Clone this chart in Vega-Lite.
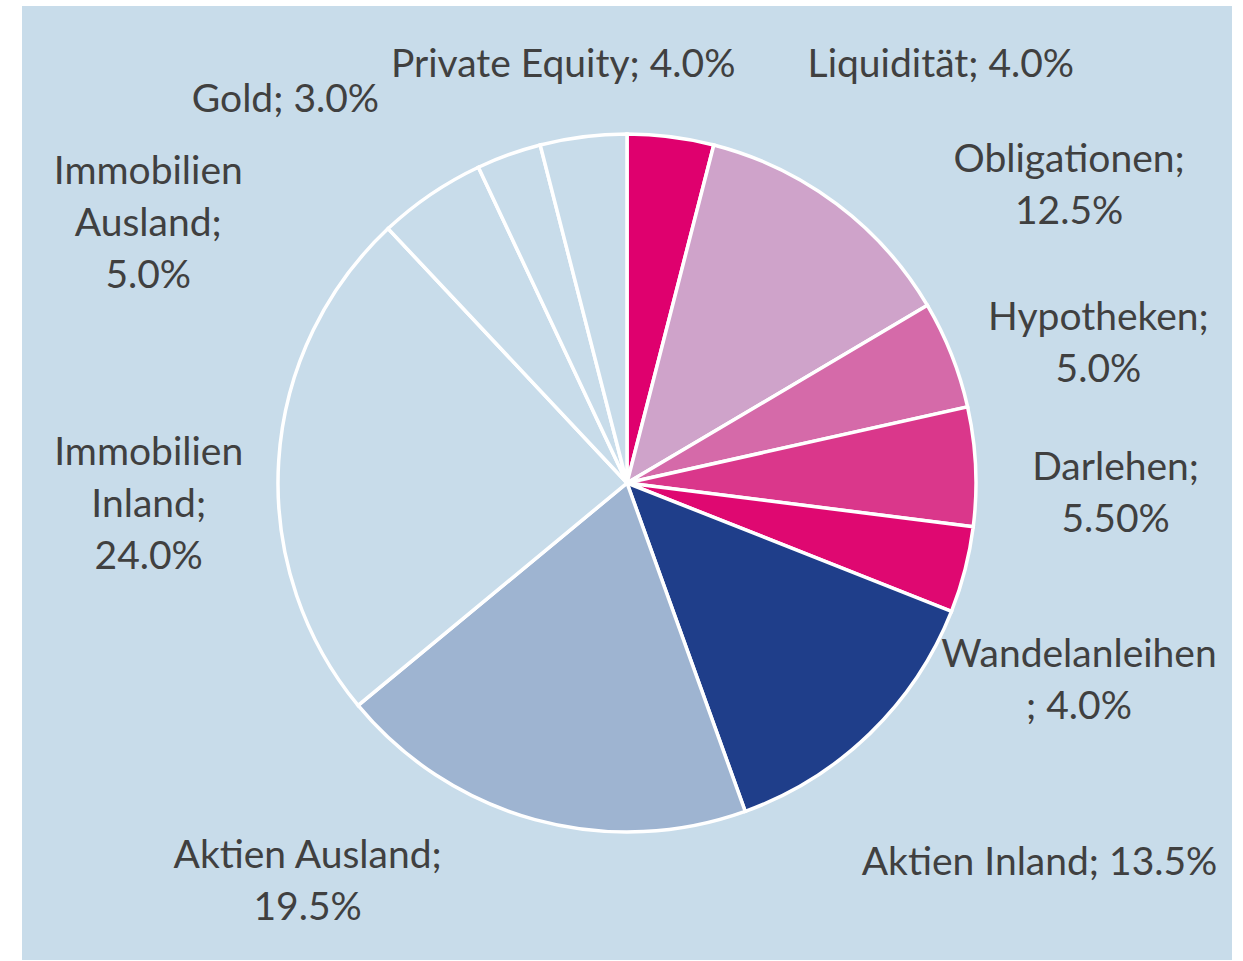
{
  "$schema": "https://vega.github.io/schema/vega-lite/v6.json",
  "width": 1210,
  "height": 954,
  "autosize": {"type": "none"},
  "padding": {"left": 22, "top": 6, "right": 11, "bottom": 1},
  "background": "white",
  "view": {"stroke": null, "fill": "#C8DCEA"},
  "data": {"values": [
    {"cat": "Liquidität", "value": 4.0, "label": "Liquidität; 4.0%"},
    {"cat": "Obligationen", "value": 12.5, "label": "Obligationen;\n12.5%"},
    {"cat": "Hypotheken", "value": 5.0, "label": "Hypotheken;\n5.0%"},
    {"cat": "Darlehen", "value": 5.5, "label": "Darlehen;\n5.50%"},
    {"cat": "Wandelanleihen", "value": 4.0, "label": "Wandelanleihen\n; 4.0%"},
    {"cat": "Aktien Inland", "value": 13.5, "label": "Aktien Inland; 13.5%"},
    {"cat": "Aktien Ausland", "value": 19.5, "label": "Aktien Ausland;\n19.5%"},
    {"cat": "Immobilien Inland", "value": 24.0, "label": "Immobilien\nInland;\n24.0%"},
    {"cat": "Immobilien Ausland", "value": 5.0, "label": "Immobilien\nAusland;\n5.0%"},
    {"cat": "Gold", "value": 3.0, "label": "Gold; 3.0%"},
    {"cat": "Private Equity", "value": 4.0, "label": "Private Equity; 4.0%"}
  ]},
  "transform": [{"window": [{"op": "row_number", "as": "idx"}]}],
  "encoding": {
    "theta": {"field": "value", "type": "quantitative", "stack": true},
    "order": {"field": "idx", "type": "quantitative"},
    "detail": {"field": "cat", "type": "nominal"}
  },
  "layer": [
    {
      "mark": {"type": "arc", "outerRadius": 349, "stroke": "white", "strokeWidth": 3.5},
      "encoding": {
        "color": {
          "field": "cat", "type": "nominal", "legend": null,
          "scale": {
            "domain": ["Liquidität", "Obligationen", "Hypotheken", "Darlehen", "Wandelanleihen", "Aktien Inland", "Aktien Ausland", "Immobilien Inland", "Immobilien Ausland", "Gold", "Private Equity"],
            "range": ["#DF006E", "#CFA3CA", "#D56AA9", "#DA378B", "#DF0871", "#1F3E8A", "#9EB4D1", "#C8DCEA", "#C8DCEA", "#C8DCEA", "#C8DCEA"]
          }
        }
      }
    },
    {
      "mark": {"type": "text", "radius": 350, "dx": 270, "dy": -59, "font": "Lato", "fontSize": 39, "lineHeight": 52, "fill": "#404040", "align": "center", "baseline": "alphabetic", "lineBreak": "\n"},
      "encoding": {"text": {"condition": {"test": "datum.cat === 'Liquidität'", "field": "label", "type": "nominal"}, "value": ""}}
    },
    {
      "mark": {"type": "text", "radius": 350, "dx": 232, "dy": -31, "font": "Lato", "fontSize": 39, "lineHeight": 52, "fill": "#404040", "align": "center", "baseline": "alphabetic", "lineBreak": "\n"},
      "encoding": {"text": {"condition": {"test": "datum.cat === 'Obligationen'", "field": "label", "type": "nominal"}, "value": ""}}
    },
    {
      "mark": {"type": "text", "radius": 350, "dx": 146, "dy": -24, "font": "Lato", "fontSize": 39, "lineHeight": 52, "fill": "#404040", "align": "center", "baseline": "alphabetic", "lineBreak": "\n"},
      "encoding": {"text": {"condition": {"test": "datum.cat === 'Hypotheken'", "field": "label", "type": "nominal"}, "value": ""}}
    },
    {
      "mark": {"type": "text", "radius": 350, "dx": 139, "dy": 13, "font": "Lato", "fontSize": 39, "lineHeight": 52, "fill": "#404040", "align": "center", "baseline": "alphabetic", "lineBreak": "\n"},
      "encoding": {"text": {"condition": {"test": "datum.cat === 'Darlehen'", "field": "label", "type": "nominal"}, "value": ""}}
    },
    {
      "mark": {"type": "text", "radius": 350, "dx": 113, "dy": 97, "font": "Lato", "fontSize": 39, "lineHeight": 52, "fill": "#404040", "align": "center", "baseline": "alphabetic", "lineBreak": "\n"},
      "encoding": {"text": {"condition": {"test": "datum.cat === 'Wandelanleihen'", "field": "label", "type": "nominal"}, "value": ""}}
    },
    {
      "mark": {"type": "text", "radius": 350, "dx": 169, "dy": 141, "font": "Lato", "fontSize": 39, "lineHeight": 52, "fill": "#404040", "align": "center", "baseline": "alphabetic", "lineBreak": "\n"},
      "encoding": {"text": {"condition": {"test": "datum.cat === 'Aktien Inland'", "field": "label", "type": "nominal"}, "value": ""}}
    },
    {
      "mark": {"type": "text", "radius": 350, "dx": -227, "dy": 47, "font": "Lato", "fontSize": 39, "lineHeight": 52, "fill": "#404040", "align": "center", "baseline": "alphabetic", "lineBreak": "\n"},
      "encoding": {"text": {"condition": {"test": "datum.cat === 'Aktien Ausland'", "field": "label", "type": "nominal"}, "value": ""}}
    },
    {
      "mark": {"type": "text", "radius": 350, "dx": -129, "dy": 4, "font": "Lato", "fontSize": 39, "lineHeight": 52, "fill": "#404040", "align": "center", "baseline": "alphabetic", "lineBreak": "\n"},
      "encoding": {"text": {"condition": {"test": "datum.cat === 'Immobilien Inland'", "field": "label", "type": "nominal"}, "value": ""}}
    },
    {
      "mark": {"type": "text", "radius": 350, "dx": -282, "dy": -10, "font": "Lato", "fontSize": 39, "lineHeight": 52, "fill": "#404040", "align": "center", "baseline": "alphabetic", "lineBreak": "\n"},
      "encoding": {"text": {"condition": {"test": "datum.cat === 'Immobilien Ausland'", "field": "label", "type": "nominal"}, "value": ""}}
    },
    {
      "mark": {"type": "text", "radius": 350, "dx": -223, "dy": -42, "font": "Lato", "fontSize": 39, "lineHeight": 52, "fill": "#404040", "align": "center", "baseline": "alphabetic", "lineBreak": "\n"},
      "encoding": {"text": {"condition": {"test": "datum.cat === 'Gold'", "field": "label", "type": "nominal"}, "value": ""}}
    },
    {
      "mark": {"type": "text", "radius": 350, "dx": -20, "dy": -59, "font": "Lato", "fontSize": 39, "lineHeight": 52, "fill": "#404040", "align": "center", "baseline": "alphabetic", "lineBreak": "\n"},
      "encoding": {"text": {"condition": {"test": "datum.cat === 'Private Equity'", "field": "label", "type": "nominal"}, "value": ""}}
    }
  ]
}
